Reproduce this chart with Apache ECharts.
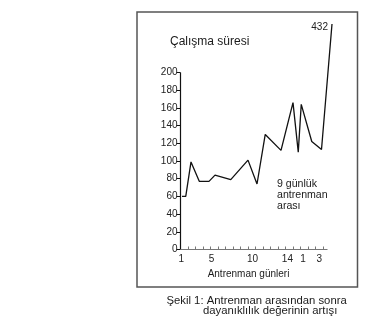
<!DOCTYPE html>
<html>
<head>
<meta charset="utf-8">
<script src="https://cdn.jsdelivr.net/npm/echarts@6/dist/echarts.min.js"></script>
<style>
html,body{margin:0;padding:0;background:#fff;}
#c{width:365px;height:330px;}
</style>
</head>
<body>
<div id="c"></div>
<script>
// Day positions along the x axis (in tick units) and training time values
const dayPos = [0.2, 0.7, 1.4, 2.5, 3.8, 4.6, 6.7, 9.0, 10.2, 11.3, 13.4, 15.0, 15.7, 16.1, 17.5, 18.8, 20.2];
const workTime = [60, 60, 99, 77, 77, 84, 79, 101, 74, 130, 112, 166, 110, 164, 122, 113, 432];
const yTicks = [0, 20, 40, 60, 80, 100, 120, 140, 160, 180, 200];
const xTickPos = [0, 1, 2, 3, 4, 5, 6, 7, 8, 9, 10, 11, 12, 13, 14, 15, 16, 17, 18, 19];
const xAxisEnd = 19.6;
const xLabelPos = [0.1, 4.15, 9.6, 14.25, 16.35, 18.5];
const xLabels = ['1', '5', '10', '14', '1', '3'];
const titleText = 'Çalışma süresi';
const xName = 'Antrenman günleri';
const noteText = '9 günlük\nantrenman\narası';
const caption1 = 'Şekil 1: Antrenman arasından sonra';
const caption2 = 'dayanıklılık değerinin artışı';

const FONT = 'Liberation Sans, Arial, sans-serif';
const chart = echarts.init(document.getElementById('c'), null, {renderer: 'canvas'});

const lastIdx = workTime.length - 1;
const seriesData = workTime.map((v, i) => {
  const item = {value: [dayPos[i], v]};
  if (i === lastIdx) {
    item.label = {
      show: true, position: 'left', distance: 4, offset: [0, 3],
      formatter: p => String(p.value[1]),
      fontFamily: FONT, fontSize: 10, color: '#222'
    };
  }
  return item;
});

chart.setOption({
  animation: false,
  backgroundColor: '#fff',
  title: {
    text: titleText, left: 170, top: 36, padding: 0,
    textStyle: {fontFamily: FONT, fontSize: 12, fontWeight: 'normal', color: '#1a1a1a'}
  },
  grid: {left: 180.5, right: 33, top: 24, bottom: 80.5, containLabel: false, outerBoundsMode: 'none'},
  xAxis: {
    type: 'value', min: 0, max: dayPos[lastIdx],
    axisLine: {show: false},
    axisTick: {show: true, inside: true, length: 3, customValues: xTickPos, lineStyle: {color: '#777', width: 1}},
    axisLabel: {
      customValues: xLabelPos, margin: 5,
      formatter: v => { const k = xLabelPos.indexOf(v); return k >= 0 ? xLabels[k] : ''; },
      fontFamily: FONT, fontSize: 10, color: '#222'
    },
    splitLine: {show: false}
  },
  yAxis: {
    type: 'value', min: 0, max: 432,
    breaks: [{start: 252, end: 429.2, gap: 0.01}],
    breakArea: {show: false},
    axisLine: {show: false},
    axisTick: {show: true, length: 4, customValues: yTicks, lineStyle: {color: '#111', width: 1}},
    axisLabel: {customValues: yTicks, margin: 3, fontFamily: FONT, fontSize: 10, color: '#222'},
    splitLine: {show: false}
  },
  series: [{
    type: 'line',
    data: seriesData,
    clip: false,
    symbol: 'circle', symbolSize: 0.01, showSymbol: true,
    itemStyle: {color: '#111'},
    lineStyle: {color: '#111', width: 1.3},
    z: 3,
    markLine: {
      silent: true, symbol: ['none', 'none'],
      label: {show: false},
      lineStyle: {color: '#111', width: 1.2, type: 'solid'},
      data: [
        [{coord: [0, yTicks[0]]}, {coord: [0, yTicks[yTicks.length - 1]]}],
        [{coord: [0, 0], lineStyle: {color: '#777', width: 1}}, {coord: [xAxisEnd, 0]}]
      ]
    }
  }],
  graphic: [
    {type: 'rect', shape: {x: 137, y: 12, width: 220.5, height: 275}, style: {fill: 'none', stroke: '#555', lineWidth: 1.5}, silent: true},
    {type: 'text', left: 277, top: 178.5, style: {text: noteText, fontFamily: FONT, fontSize: 10.6, lineHeight: 11, fill: '#1a1a1a'}},
    {type: 'text', x: 248.5, y: 274.3, style: {text: xName, fontFamily: FONT, fontSize: 10, fill: '#1a1a1a', align: 'center', verticalAlign: 'middle'}},
    {type: 'text', x: 166.5, y: 300.7, style: {text: caption1, fontFamily: FONT, fontSize: 11.3, fill: '#1a1a1a', align: 'left', verticalAlign: 'middle'}},
    {type: 'text', x: 203, y: 311, style: {text: caption2, fontFamily: FONT, fontSize: 11.3, fill: '#1a1a1a', align: 'left', verticalAlign: 'middle'}}
  ]
});
</script>
</body>
</html>
